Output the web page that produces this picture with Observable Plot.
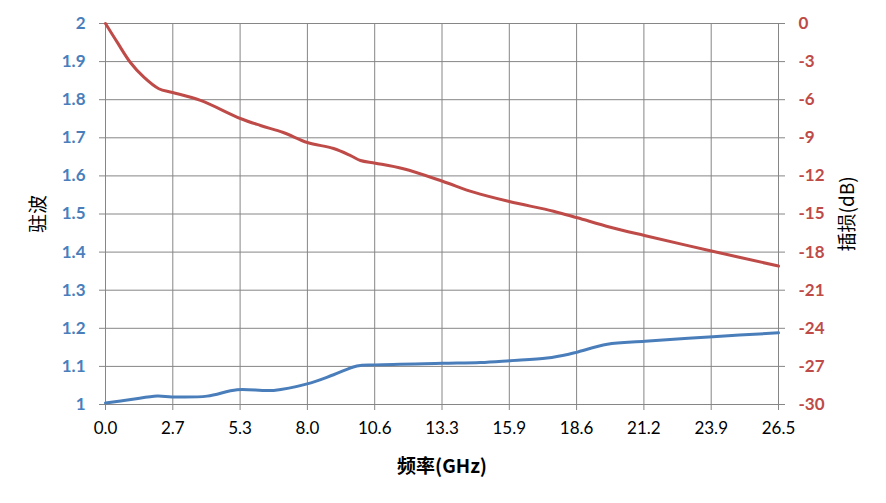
<!DOCTYPE html>
<html>
<head>
<meta charset="utf-8">
<script src="https://cdn.jsdelivr.net/npm/d3@7"></script>
<script src="https://cdn.jsdelivr.net/npm/@observablehq/plot@0.6"></script>
<style>
  html, body { margin: 0; padding: 0; background: #fff; }
</style>
</head>
<body>
<div id="chart"></div>
<script>
// Frequency tick positions (GHz) and their printed labels
const xTickValues = [0, 2.65, 5.3, 7.95, 10.6, 13.25, 15.9, 18.55, 21.2, 23.85, 26.5];
const xTickLabels = ["0.0", "2.7", "5.3", "8.0", "10.6", "13.3", "15.9", "18.6", "21.2", "23.9", "26.5"];

// Left axis (VSWR) ticks
const vswrTicks = [1, 1.1, 1.2, 1.3, 1.4, 1.5, 1.6, 1.7, 1.8, 1.9, 2];
const vswrTickLabels = ["1", "1.1", "1.2", "1.3", "1.4", "1.5", "1.6", "1.7", "1.8", "1.9", "2"];

// Right axis (insertion loss, dB) ticks
const lossTicks = [-30, -27, -24, -21, -18, -15, -12, -9, -6, -3, 0];
const lossTickLabels = ["-30", "-27", "-24", "-21", "-18", "-15", "-12", "-9", "-6", "-3", "0"];

// VSWR series (blue)
const vswrFreq = [0, 1.0, 2.03, 2.62, 4.0, 5.18, 6.62, 7.94, 8.98, 9.9, 10.63, 13.26, 14.76, 15.94, 17.39, 18.24, 18.6, 19.76, 21.24, 23.92, 26.5];
const vswrValue = [1.004, 1.013, 1.022, 1.020, 1.022, 1.039, 1.037, 1.054, 1.078, 1.101, 1.104, 1.108, 1.110, 1.115, 1.122, 1.132, 1.138, 1.158, 1.166, 1.178, 1.188];

// Insertion loss series (red, dB)
const lossFreq = [0, 0.46, 0.98, 1.51, 2.1, 2.64, 3.74, 5.31, 6.1, 7.0, 7.95, 8.98, 9.65, 10.04, 10.63, 11.73, 13.27, 14.49, 15.9, 17.64, 18.58, 19.88, 21.22, 23.9, 26.5];
const lossValue = [0, -1.47, -3.07, -4.23, -5.14, -5.43, -6.06, -7.48, -8.03, -8.58, -9.37, -9.84, -10.4, -10.79, -11.0, -11.44, -12.42, -13.28, -14.02, -14.78, -15.3, -16.04, -16.69, -17.93, -19.1];

const BLUE = "#4A7EBB";
const RED = "#BE4B48";
const GRID = "#868686";

const yMin = 1, yMax = 2, dbMin = -30, dbMax = 0;
const dbToY = d => yMin + (d - dbMin) / (dbMax - dbMin) * (yMax - yMin);

const vswrData = vswrFreq.map((f, i) => ({f, v: vswrValue[i]}));
const lossData = lossFreq.map((f, i) => ({f, v: dbToY(lossValue[i])}));

const chart = Plot.plot({
  width: 886,
  height: 503,
  marginLeft: 105,
  marginRight: 108,
  marginTop: 23,
  marginBottom: 99,
  x: {domain: [0, 26.5]},
  y: {domain: [yMin, yMax]},
  style: {fontFamily: "Lato, 'Noto Sans', sans-serif", background: "#fff", overflow: "visible"},
  marks: [
    Plot.gridX(xTickValues, {stroke: GRID, strokeOpacity: 1, strokeWidth: 1}),
    Plot.gridY(vswrTicks, {stroke: GRID, strokeOpacity: 1, strokeWidth: 1}),
    Plot.ruleX([0], {stroke: GRID, strokeWidth: 1}),
    Plot.ruleY([yMin], {stroke: GRID, strokeWidth: 1}),
    Plot.axisX({
      ticks: xTickValues,
      tickFormat: d => xTickLabels[xTickValues.indexOf(d)],
      tickSize: 6,
      tickPadding: 11,
      stroke: GRID,
      fill: "#000",
      fontSize: 17,
      label: null
    }),
    Plot.axisY({
      anchor: "left",
      ticks: vswrTicks,
      tickFormat: d => vswrTickLabels[vswrTicks.indexOf(d)],
      tickSize: 6,
      tickPadding: 14,
      stroke: GRID,
      fill: BLUE,
      fontSize: 17,
      fontWeight: "bold",
      label: null
    }),
    Plot.axisY({
      anchor: "right",
      ticks: lossTicks.map(dbToY),
      tickFormat: d => lossTickLabels[lossTicks.map(dbToY).indexOf(d)],
      tickSize: 6,
      tickPadding: 14,
      stroke: GRID,
      fill: RED,
      fontSize: 17,
      fontWeight: "bold",
      label: null
    }),
    Plot.line(lossData, {x: "f", y: "v", stroke: RED, strokeWidth: 3, curve: "catmull-rom"}),
    Plot.line(vswrData, {x: "f", y: "v", stroke: BLUE, strokeWidth: 3, curve: "catmull-rom"}),
    Plot.text(["驻波"], {frameAnchor: "left", dx: -67, rotate: -90, textAnchor: "middle", lineAnchor: "middle",
      fontSize: 19, fill: "#000", fontFamily: "'Noto Sans CJK SC', sans-serif"}),
    Plot.text(["插损(dB)"], {frameAnchor: "right", dx: 69, rotate: -90, textAnchor: "middle", lineAnchor: "middle",
      fontSize: 19, fill: "#000", fontFamily: "'Noto Sans CJK SC', sans-serif"}),
    Plot.text(["频率(GHz)"], {frameAnchor: "bottom", dy: 62, textAnchor: "middle", lineAnchor: "middle",
      fontSize: 19, fill: "#000", fontWeight: "bold", fontFamily: "'Noto Sans CJK SC', sans-serif"})
  ]
});
document.getElementById("chart").appendChild(chart);
</script>
</body>
</html>
